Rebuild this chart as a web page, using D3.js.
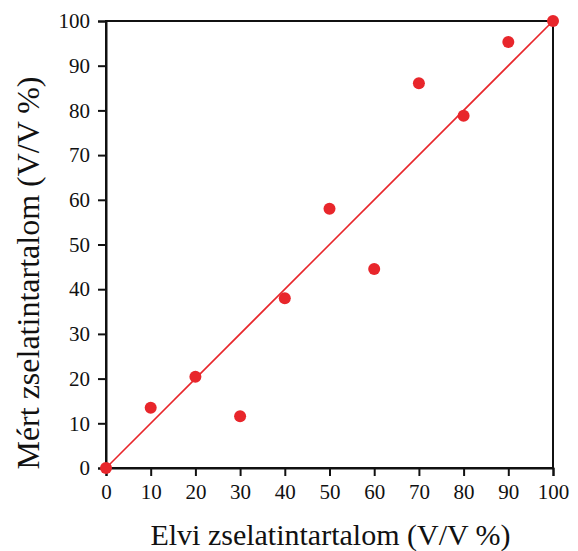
<!DOCTYPE html>
<html>
<head>
<meta charset="utf-8">
<script src="https://cdn.jsdelivr.net/npm/d3@7"></script>
</head>
<body style="margin:0; background:#fff">
<script>
// Data
const elvi = [0, 10, 20, 30, 40, 50, 60, 70, 80, 90, 100];
const mert = [0, 13.5, 20.4, 11.6, 38.0, 58.0, 44.5, 86.1, 78.8, 95.3, 100];
const fitLine = [[0, 0], [100, 100]];
const ticks = [0, 10, 20, 30, 40, 50, 60, 70, 80, 90, 100];

const width = 578, height = 551;
const margin = { top: 21, right: 25, bottom: 83, left: 106 };
const serif = '"Liberation Serif"';
const red = "#e8262b";

const svg = d3.select("body").append("svg")
  .attr("width", width)
  .attr("height", height);

const x = d3.scaleLinear().domain([0, 100]).range([margin.left, width - margin.right]);
const y = d3.scaleLinear().domain([0, 100]).range([height - margin.bottom, margin.top]);

// Frame (top and right lines)
svg.append("rect")
  .attr("x", x(0)).attr("y", y(100))
  .attr("width", x(100) - x(0)).attr("height", y(0) - y(100))
  .attr("fill", "none").attr("stroke", "#111").attr("stroke-width", 2);

// Axes
const xAxis = svg.append("g")
  .attr("transform", `translate(0,${y(0)})`)
  .call(d3.axisBottom(x).tickValues(ticks).tickSize(8).tickPadding(8));
const yAxis = svg.append("g")
  .attr("transform", `translate(${x(0)},0)`)
  .call(d3.axisLeft(y).tickValues(ticks).tickSize(8).tickPadding(8));

[xAxis, yAxis].forEach(g => {
  g.attr("font-family", null).attr("font-size", null);
  g.select(".domain").attr("stroke", "#111").attr("stroke-width", 2);
  g.selectAll(".tick line").attr("stroke", "#111").attr("stroke-width", 2);
  g.selectAll(".tick text")
    .style("font-family", serif)
    .style("font-size", "21px")
    .attr("fill", "#111");
});

// Fit line
svg.append("path")
  .datum(fitLine)
  .attr("d", d3.line().x(d => x(d[0])).y(d => y(d[1])))
  .attr("stroke", red).attr("stroke-width", 1.6).attr("fill", "none");

// Points
svg.append("g").selectAll("circle")
  .data(elvi.map((v, i) => [v, mert[i]]))
  .enter().append("circle")
  .attr("cx", d => x(d[0]))
  .attr("cy", d => y(d[1]))
  .attr("r", 6)
  .attr("fill", red);

// Axis labels
svg.append("text")
  .attr("x", (x(0) + x(100)) / 2 + 1)
  .attr("y", 545)
  .attr("text-anchor", "middle")
  .style("font-family", serif)
  .style("font-size", "30px")
  .attr("fill", "#111")
  .text("Elvi zselatintartalom (V/V %)");

svg.append("text")
  .attr("transform", "translate(39,273) rotate(-90)")
  .attr("text-anchor", "middle")
  .style("font-family", serif)
  .style("font-size", "32px")
  .attr("fill", "#111")
  .text("Mért zselatintartalom (V/V %)");
</script>
</body>
</html>
